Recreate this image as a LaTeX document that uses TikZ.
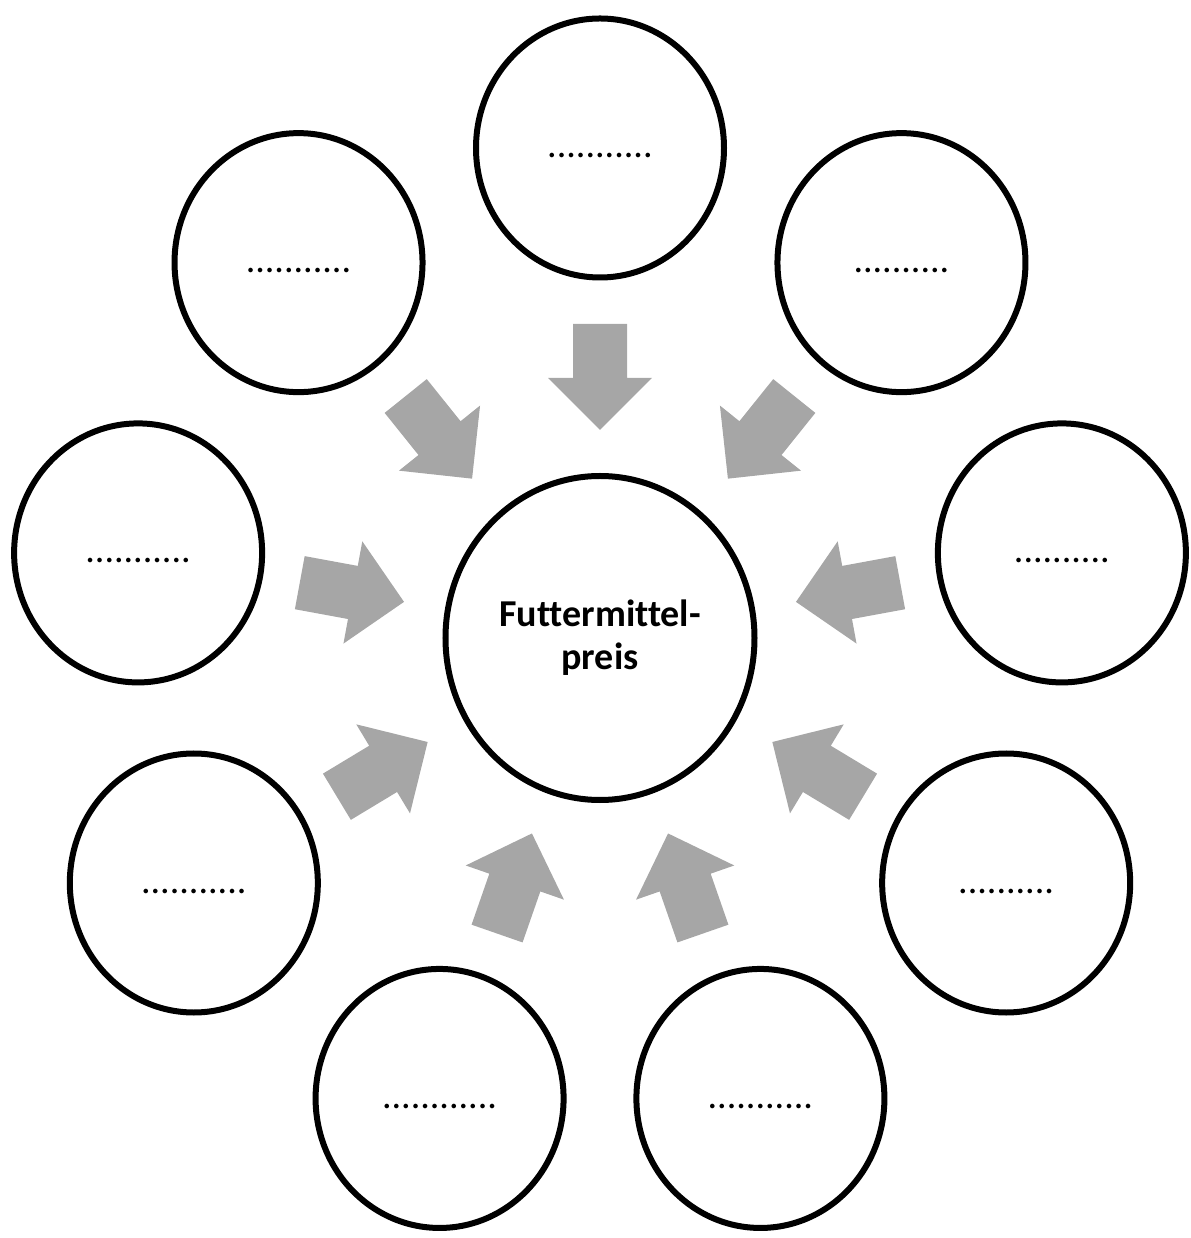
\documentclass[tikz,border=0pt]{standalone}
\usepackage{fontspec}
\setmainfont{Carlito}[Ligatures=NoCommon]
\usetikzlibrary{shapes.geometric}
\definecolor{arrowgray}{RGB}{166,166,166}
\begin{document}
\begin{tikzpicture}[x=1pt,y=1pt,
  outer/.style={draw=black, line width=6pt, fill=white, ellipse,
    minimum width=248pt, minimum height=259pt, inner sep=0pt, outer sep=0pt},
  hub/.style={outer, minimum width=309pt, minimum height=324pt},
  dotlabel/.style={font=\fontsize{38}{43}\selectfont, anchor=base, inner sep=0pt},
  hublabel/.style={font=\bfseries\fontsize{38}{43}\selectfont, anchor=base,
    inner sep=0pt, align=center},
  blockarrow/.style={fill=arrowgray}]
\useasboundingbox (-600,-600) rectangle (590,638);
\node[hub] (hub) at (0,0) {};
\node[hublabel] (hubtext) at ([yshift=-32pt]hub.center) {Futtermittel-\\preis};
\foreach \a/\d [count=\i] in {90/{...........}, 50/{..........}, 10/{..........},
    -30/{..........}, -70/{...........}, -110/{............}, -150/{...........},
    170/{...........}, 130/{...........}} {
  \pgfmathsetmacro\ang{atan2(1.045*sin(\a),cos(\a))}
  \node[outer] (c\i) at (\a:469pt and 490pt) {};
  \node[dotlabel] (d\i) at ([yshift=-10pt]c\i.center) {\d};
  \coordinate (tip\i) at (\a:199pt and 208pt);
  \fill[blockarrow, shift={(tip\i)}, rotate=\ang]
    (0,0) -- (52,52) -- (52,27) -- (106,27) -- (106,-27) -- (52,-27) -- (52,-52) -- cycle;
}
\end{tikzpicture}
\end{document}
